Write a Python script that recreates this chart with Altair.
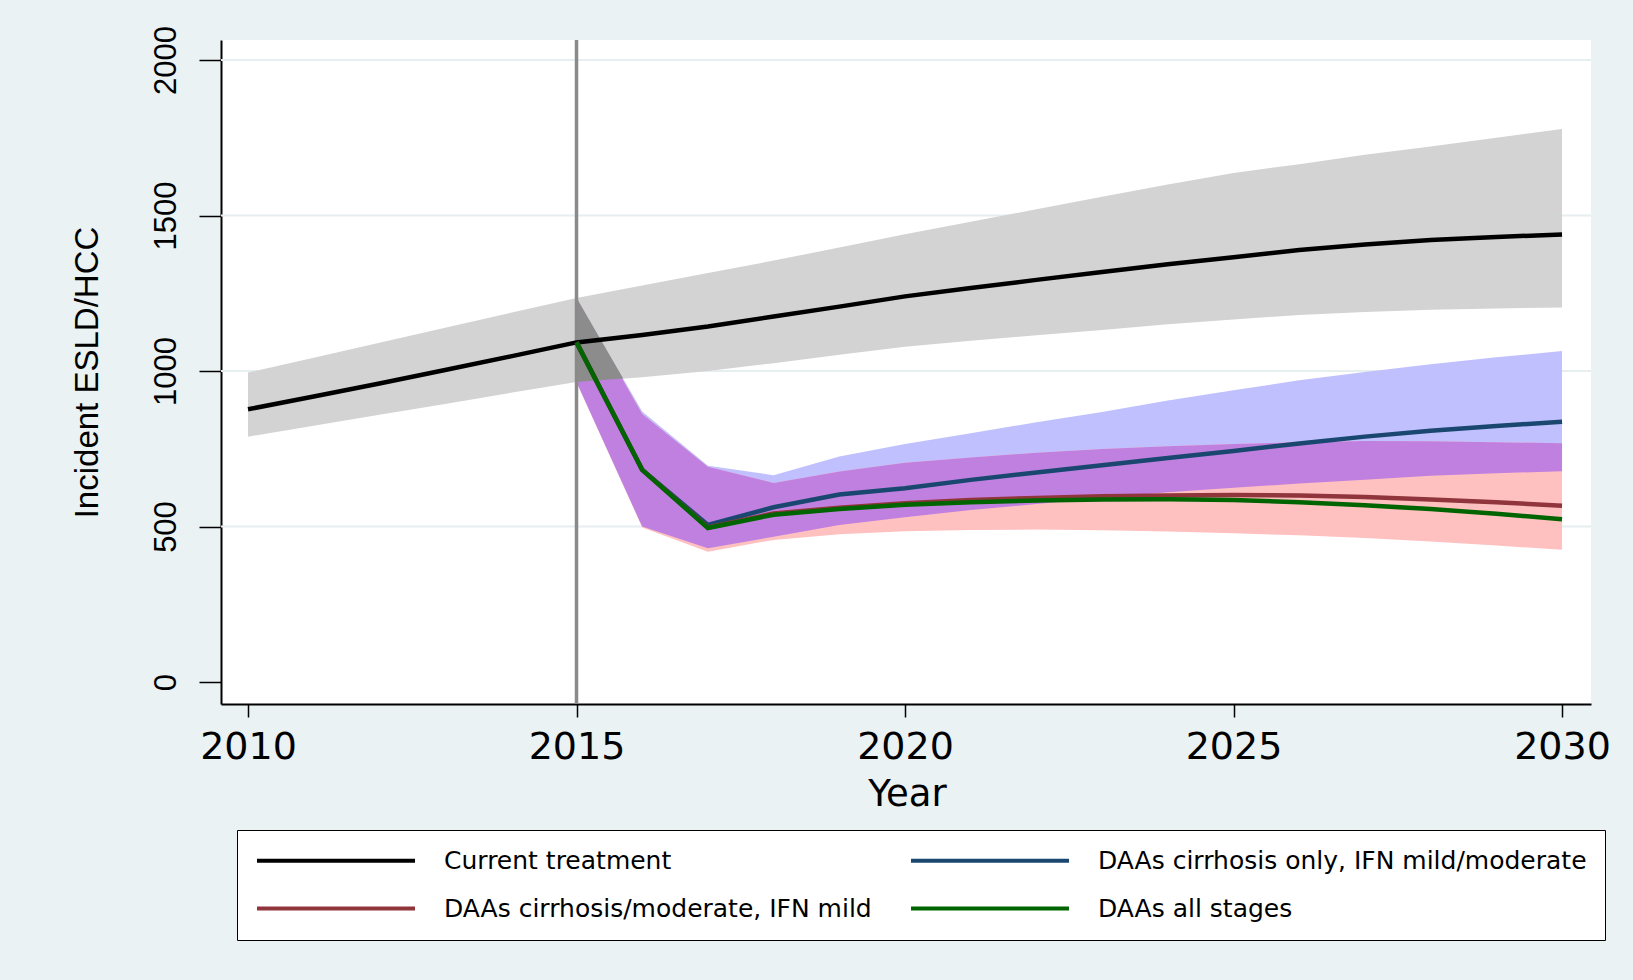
import altair as alt
import pandas as pd
import numpy as np

# ---------------- data ----------------
years = list(range(2010, 2031))
current = [877, 918, 960, 1003, 1047, 1092, 1116, 1143, 1175, 1207, 1240,
           1267, 1293, 1318, 1343, 1366, 1389, 1407, 1421, 1431, 1439]
current_lo = [789, 824, 859, 894, 930, 965, 980, 1000, 1025, 1052, 1078,
              1097, 1115, 1132, 1150, 1166, 1180, 1190, 1197, 1201, 1204]
current_hi = [995, 1043, 1091, 1139, 1187, 1235, 1275, 1315, 1355, 1397, 1440,
              1480, 1520, 1560, 1600, 1637, 1665, 1695, 1722, 1750, 1778]

years_daa = list(range(2015, 2031))
cirr_only = [1092, 682, 505, 562, 603, 623, 650, 674, 697, 720, 743, 767, 789, 808, 823, 837]
cirr_only_lo = [965, 500, 430, 467, 505, 530, 553, 572, 592, 610, 625, 638, 650, 663, 671, 678]
cirr_only_hi = [1235, 870, 695, 665, 725, 765, 800, 835, 868, 905, 938, 970, 997, 1022, 1044, 1064]
cirr_mod = [1092, 682, 497, 542, 560, 575, 585, 592, 597, 600, 601, 600, 595, 587, 578, 567]
cirr_mod_lo = [965, 497, 419, 457, 475, 485, 489, 490, 488, 484, 478, 472, 463, 452, 439, 425]
cirr_mod_hi = [1235, 862, 692, 640, 677, 705, 722, 737, 749, 758, 765, 771, 775, 774, 771, 768]
all_stages = [1092, 682, 495, 538, 556, 570, 578, 584, 587, 588, 585, 578, 568, 556, 541, 523]

series_names = ["Current treatment",
                "DAAs cirrhosis only, IFN mild/moderate",
                "DAAs cirrhosis/moderate, IFN mild",
                "DAAs all stages"]
series_colors = ["#000000", "#1A476F", "#90353B", "#006400"]
# legend fills column by column: left column first
legend_order = [series_names[0], series_names[2], series_names[1], series_names[3]]
legend_colors = [series_colors[0], series_colors[2], series_colors[1], series_colors[3]]

x_ticks = [2010, 2015, 2020, 2025, 2030]
y_ticks = [0, 500, 1000, 1500, 2000]
grid_values = [500, 1000, 1500, 2000]
policy_year = [2015]

# ---------------- tables ----------------
lines_df = pd.concat([
    pd.DataFrame({"Year": years, "value": current, "series": series_names[0]}),
    pd.DataFrame({"Year": years_daa, "value": cirr_only, "series": series_names[1]}),
    pd.DataFrame({"Year": years_daa, "value": cirr_mod, "series": series_names[2]}),
    pd.DataFrame({"Year": years_daa, "value": all_stages, "series": series_names[3]}),
], ignore_index=True)

gray_df = pd.DataFrame({"Year": years, "lo": current_lo, "hi": current_hi})
blue_df = pd.DataFrame({"Year": years_daa, "lo": cirr_only_lo, "hi": cirr_only_hi})
pink_df = pd.DataFrame({"Year": years_daa, "lo": cirr_mod_lo, "hi": cirr_mod_hi})
over_df = pd.DataFrame({"Year": years_daa,
                        "lo": np.maximum(cirr_only_lo, cirr_mod_lo),
                        "hi": np.minimum(cirr_only_hi, cirr_mod_hi)})

# overlap of the intervention bands with the current-treatment band (2015 -> crossing)
g = gray_df.set_index("Year")
u_hi = np.maximum(cirr_only_hi, cirr_mod_hi)
h0, h1 = float(u_hi[0]), float(u_hi[1])
l0, l1 = float(g.loc[2015, "lo"]), float(g.loc[2016, "lo"])
s = (h0 - l0) / ((h0 - h1) + (l1 - l0))
t_star = 2015 + s
y_star = l0 + s * (l1 - l0)
tri_df = pd.DataFrame({"Year": [2015, t_star],
                       "lo": [l0, y_star],
                       "hi": [min(h0, float(g.loc[2015, "hi"])), y_star]})

grid_df = pd.DataFrame({"v": grid_values})
vline_df = pd.DataFrame({"Year": policy_year})

# ---------------- scales / axes ----------------
x_scale = alt.Scale(domain=[2009.589, 2030.441], nice=False, zero=False)
y_scale = alt.Scale(domain=[-70.7, 2064.3], nice=False, zero=False)

narrow = "Liberation Sans Narrow, Liberation Sans, Arial, sans-serif"

x_axis = alt.Axis(values=x_ticks, title="Year", grid=False, format="d",
                  labelFont="DejaVu Sans", labelFontSize=38, labelColor="black",
                  labelPadding=11, labelFlush=False, labelOverlap=False,
                  tickSize=13, tickColor="black", tickWidth=1.5,
                  domainColor="black", domainWidth=2,
                  titleFont="DejaVu Sans", titleFontSize=37, titleFontWeight="normal",
                  titleColor="black", titleX=686, titleY=101,
                  titleAlign="center", titleBaseline="alphabetic")

y_axis = alt.Axis(values=y_ticks, title="Incident ESLD/HCC", grid=False, format="d",
                  labelFont=narrow, labelFontSize=31, labelColor="black",
                  labelAngle=270, labelAlign="center", labelBaseline="alphabetic",
                  labelPadding=24, labelOverlap=False, labelFlush=False,
                  tickSize=22, tickColor="black", tickWidth=1.5,
                  domainColor="black", domainWidth=2,
                  titleFont=narrow, titleFontSize=33,
                  titleFontWeight="normal", titleColor="black",
                  titleAngle=270, titleX=-124, titleY=332,
                  titleAlign="center", titleBaseline="alphabetic")

X = lambda f: alt.X(f, type="quantitative", scale=x_scale, axis=x_axis)
Y = lambda f: alt.Y(f, type="quantitative", scale=y_scale, axis=y_axis)

# ---------------- layers ----------------
grid = alt.Chart(grid_df).mark_rule(color="#E6EEF0", strokeWidth=2).encode(y=Y("v"))


def band(df, color):
    return alt.Chart(df).mark_area(color=color, opacity=1).encode(
        x=X("Year"), y=Y("lo"), y2="hi:Q")


gray_band = band(gray_df, "#D3D3D3")
blue_band = band(blue_df, "#C0C0FF")
pink_band = band(pink_df, "#FFC0C0")
over_band = band(over_df, "#C080E0")
tri_band = band(tri_df, "#8C8C8C")

vline = alt.Chart(vline_df).mark_rule(color="#8A8A8A", strokeWidth=3.5).encode(x=X("Year"))

color_scale = alt.Scale(domain=legend_order, range=legend_colors)
legend = alt.Legend(orient="none", legendX=16, legendY=790, columns=2, title=None,
                    symbolType="stroke", symbolSize=24964, symbolStrokeWidth=4,
                    clipHeight=25, labelFont="DejaVu Sans", labelFontSize=25,
                    labelColor="black", labelOffset=27, labelLimit=1000,
                    columnPadding=37, rowPadding=22, padding=18,
                    strokeColor="black", fillColor="white")


def line(name):
    return alt.Chart(lines_df).transform_filter(
        alt.datum.series == name
    ).mark_line(strokeWidth=4.5).encode(
        x=X("Year"), y=Y("value"),
        color=alt.Color("series:N", scale=color_scale, legend=legend))


layers = [grid, gray_band, blue_band, pink_band, over_band, tri_band, vline] + \
         [line(n) for n in series_names]

chart = alt.layer(*layers).properties(
    width=1370, height=664,
    padding={"left": 221, "top": 40, "right": 42, "bottom": 276},
    autosize=alt.AutoSizeParams(type="none"),
    background="#EAF2F3",
).configure_view(fill="white", stroke=None)

chart.save("out.html", embed_options={"renderer": "svg", "actions": False})
